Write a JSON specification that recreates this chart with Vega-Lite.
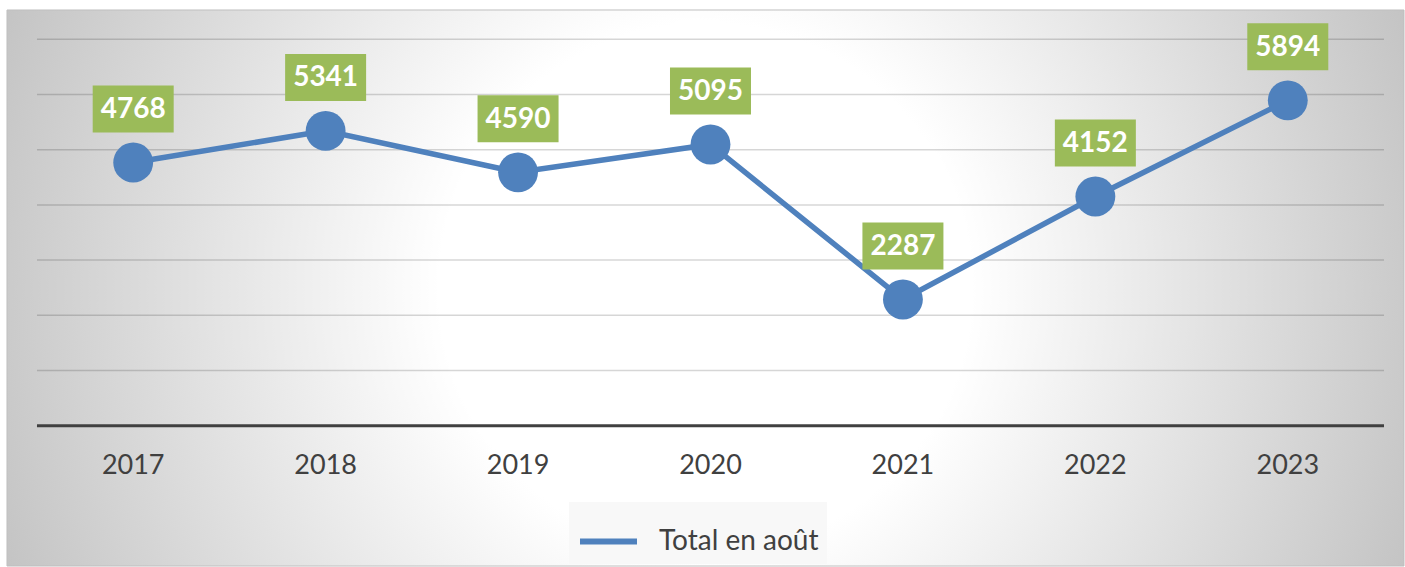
{
  "$schema": "https://vega.github.io/schema/vega-lite/v6.json",
  "width": 1405,
  "height": 567,
  "autosize": {"type": "fit", "contains": "padding"},
  "padding": 0,
  "config": {"view": {"stroke": null}},
  "data": {"values": [
    {"year": 2017, "value": 4768, "series": "Total en août"},
    {"year": 2018, "value": 5341, "series": "Total en août"},
    {"year": 2019, "value": 4590, "series": "Total en août"},
    {"year": 2020, "value": 5095, "series": "Total en août"},
    {"year": 2021, "value": 2287, "series": "Total en août"},
    {"year": 2022, "value": 4152, "series": "Total en août"},
    {"year": 2023, "value": 5894, "series": "Total en août"}
  ]},
  "layer": [
    {
      "data": {"values": [{"xs": 2016.3442, "xe": 2023.6039, "ys": -2542, "ye": 7531}]},
      "mark": {"type": "rect", "stroke": "#bfbfbf", "strokeWidth": 1,
        "fill": {"gradient": "radial", "x1": 0.5, "y1": 0.5, "r1": 0, "x2": 0.5, "y2": 0.5, "r2": 0.55,
          "stops": [{"offset": 0, "color": "#ffffff"}, {"offset": 0.345, "color": "#ffffff"}, {"offset": 1, "color": "#c2c2c2"}]}},
      "encoding": {
        "x": {"field": "xs", "type": "quantitative", "axis": null},
        "x2": {"field": "xe"},
        "y": {"field": "ys", "type": "quantitative", "axis": null},
        "y2": {"field": "ye"}
      }
    },
    {
      "data": {"values": [{"v": 1000, "a": 2016.5, "b": 2023.5}, {"v": 2000, "a": 2016.5, "b": 2023.5}, {"v": 3000, "a": 2016.5, "b": 2023.5}, {"v": 4000, "a": 2016.5, "b": 2023.5}, {"v": 5000, "a": 2016.5, "b": 2023.5}, {"v": 6000, "a": 2016.5, "b": 2023.5}, {"v": 7000, "a": 2016.5, "b": 2023.5}]},
      "mark": {"type": "rule", "color": "#000000", "strokeOpacity": 0.16, "strokeWidth": 1.5},
      "encoding": {
        "x": {"field": "a", "type": "quantitative", "axis": null},
        "x2": {"field": "b"},
        "y": {"field": "v", "type": "quantitative", "axis": null}
      }
    },
    {
      "data": {"values": [{"v": 0, "a": 2016.5, "b": 2023.5}]},
      "mark": {"type": "rule", "color": "#404040", "strokeWidth": 3},
      "encoding": {
        "x": {"field": "a", "type": "quantitative", "axis": null},
        "x2": {"field": "b"},
        "y": {"field": "v", "type": "quantitative", "axis": null}
      }
    },
    {
      "mark": {"type": "line", "strokeWidth": 5.5},
      "encoding": {
        "x": {"field": "year", "type": "quantitative",
          "scale": {"domain": [2016.30786, 2023.60391], "nice": false, "zero": false}, "axis": null},
        "y": {"field": "value", "type": "quantitative",
          "scale": {"domain": [-2559.8, 7711.96], "nice": false, "zero": false}, "axis": null},
        "color": {"field": "series", "type": "nominal", "scale": {"range": ["#4F81BD"]},
          "legend": {"title": null, "orient": "none", "legendX": 569, "legendY": 502,
            "fillColor": "#f8f8f8", "padding": 8, "symbolType": "stroke", "symbolSize": 3249,
            "symbolStrokeWidth": 6, "symbolStrokeColor": "#4F81BD",
            "labelOffset": 19, "labelFont": "Lato", "labelFontSize": 28, "labelColor": "#404040", "labelLimit": 400}}
      }
    },
    {
      "mark": {"type": "point", "shape": "circle", "filled": true, "opacity": 1, "size": 1590},
      "encoding": {
        "x": {"field": "year", "type": "quantitative", "axis": null},
        "y": {"field": "value", "type": "quantitative", "axis": null},
        "color": {"field": "series", "type": "nominal"}
      }
    },
    {
      "mark": {"type": "rect", "color": "#9BBB59", "opacity": 1,
        "xOffset": -40.5, "x2Offset": 40.5, "yOffset": -77, "y2Offset": -30},
      "encoding": {
        "x": {"field": "year", "type": "quantitative", "axis": null},
        "x2": {"field": "year"},
        "y": {"field": "value", "type": "quantitative", "axis": null},
        "y2": {"field": "value"}
      }
    },
    {
      "mark": {"type": "text", "font": "Lato", "fontWeight": "bold", "fontSize": 28, "color": "#ffffff",
        "baseline": "middle", "align": "center", "yOffset": -52.5},
      "encoding": {
        "x": {"field": "year", "type": "quantitative", "axis": null},
        "y": {"field": "value", "type": "quantitative", "axis": null},
        "text": {"field": "value", "type": "nominal"}
      }
    },
    {
      "mark": {"type": "text", "font": "Lato", "fontSize": 27, "color": "#404040",
        "baseline": "middle", "align": "center"},
      "encoding": {
        "x": {"field": "year", "type": "quantitative", "axis": null},
        "y": {"datum": -739, "type": "quantitative", "axis": null},
        "text": {"field": "year", "type": "nominal"}
      }
    }
  ]
}
